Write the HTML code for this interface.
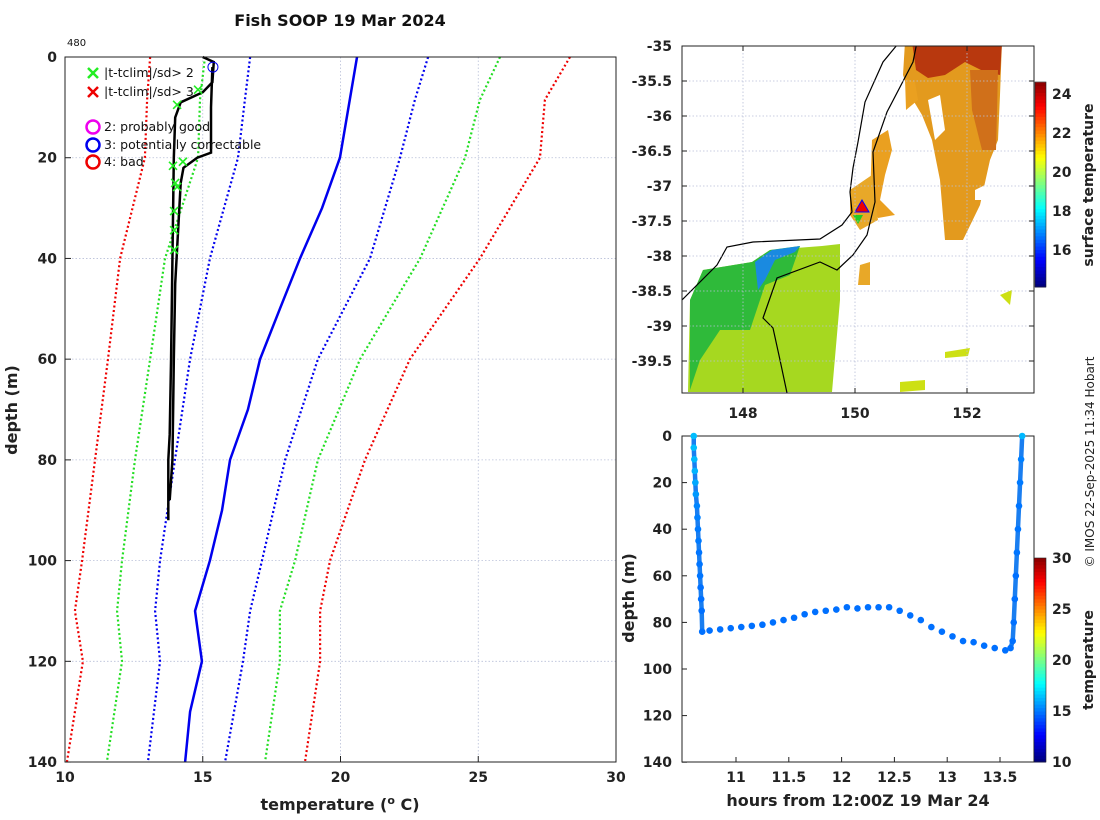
<!DOCTYPE html>
<html><head><meta charset="utf-8"><style>
body{margin:0;background:#fff}
svg{display:block;font-family:"DejaVu Sans","Liberation Sans",sans-serif}
.tk{font-size:14px;font-weight:bold;fill:#222}
.gr{stroke:#b8bfd8;stroke-width:0.8;stroke-dasharray:1.5 2}
</style></head><body>
<svg id="fig" width="1100" height="820" viewBox="0 0 1100 820">
<defs><clipPath id="mapclip"><rect x="682" y="46" width="352" height="347"/></clipPath></defs>
<text x="340" y="26" text-anchor="middle" font-size="16" font-weight="bold" fill="#111">Fish SOOP 19 Mar 2024</text>
<text x="67" y="46" font-size="10" fill="#111">480</text>
<g id="left"></g>
<g id="map" clip-path="url(#mapclip)">
 <rect x="682" y="46" width="352" height="347" fill="#fff"/>
 <path fill="#e39a1e" d="M905 42 L1002 42 L1000 95 L998 140 L990 160 L980 205 L963 240 L945 240 L940 180 L932 140 L922 115 L910 95 L903 75 Z"/>
 <path fill="#b8380e" d="M912 42 L1002 42 L1000 75 L985 72 L965 62 L945 75 L928 78 L916 70 Z"/>
 <path fill="#d0701a" d="M970 70 L998 70 L996 150 L982 150 L972 110 Z"/>
 <path fill="#fff" d="M928 100 L940 95 L945 130 L935 140 Z M975 190 L985 185 L985 200 L975 200 Z"/>
 <path fill="#eaa020" d="M872 140 L888 130 L892 150 L885 175 L880 200 L895 215 L878 218 L870 200 Z M905 78 L915 82 L918 100 L906 110 Z"/>
 <path fill="#e8a828" d="M850 190 L872 175 L878 220 L860 230 L850 215 Z M860 265 L870 262 L870 285 L858 285 Z"/>
 <path fill="#a6d820" d="M690 300 L703 270 L752 262 L770 250 L822 246 L840 244 L840 300 L832 392 L688 392 Z"/>
 <path fill="#2fba3a" d="M690 300 L703 270 L752 262 L770 250 L800 246 L790 275 L765 285 L750 330 L720 330 L700 360 L690 390 Z"/>
 <path fill="#1a8ae0" d="M755 262 L772 250 L800 246 L795 252 L775 260 L765 280 L758 290 Z"/>
 <path fill="#cde014" d="M900 382 L925 380 L925 390 L900 392 Z M945 352 L970 348 L968 356 L945 358 Z M1000 295 L1012 290 L1010 305 Z"/>
 <path fill="none" stroke="#000" stroke-width="1.2" d="M682 300 L717 265 L727 247 L753 242 L820 239 L842 225 L852 212 L850 192 L853 168 L858 142 L865 102 L883 62 L897 45 L905 42"/>
 <path fill="none" stroke="#000" stroke-width="1.2" d="M917 42 L913 62 L887 112 L873 152 L875 202 L867 235 L853 255 L837 270 L820 262 L777 278 L763 318 L773 328 L780 360 L787 393"/>
 <path d="M862 200 L869 212 L855 212 Z" fill="#e00" stroke="#00f" stroke-width="1"/>
 <path d="M853 215 L863 215 L858 224 Z" fill="#2c2"/>
</g>
<g id="mapaxes"></g>
<g id="bottom"></g>
<text transform="translate(1093,185) rotate(-90)" text-anchor="middle" font-size="14" font-weight="bold" fill="#222">surface temperature</text>
<text transform="translate(1094,462) rotate(-90)" text-anchor="middle" font-size="12" fill="#222">© IMOS 22-Sep-2025 11:34 Hobart</text>
<text transform="translate(1093,660) rotate(-90)" text-anchor="middle" font-size="14" font-weight="bold" fill="#222">temperature</text>
</svg>
<script>
// ---- profile data ----
const climDepths=[0,8.5,20,40,60,80,100,110,120,140];
const redLeft=[13.09,12.98,12.90,12.00,11.56,11.09,10.62,10.36,10.65,10.07];
const greenLeft=[15.08,14.90,14.83,13.63,13.09,12.54,12.07,11.89,12.07,11.52];
const blueLeft=[16.72,16.53,16.28,15.26,14.54,13.99,13.45,13.27,13.45,13.01];
const blueRight=[23.18,22.70,22.16,21.07,19.18,17.99,17.15,16.72,16.46,15.81];
const greenRight=[25.79,25.06,24.52,22.89,20.71,19.18,18.35,17.80,17.80,17.26];
const redRight=[28.33,27.42,27.24,25.06,22.52,20.89,19.62,19.26,19.26,18.71];
const meanDepths=[0,20,30,40,50,60,70,80,90,100,110,120,130,140];
const meanTemps=[20.60,19.98,19.33,18.53,17.80,17.08,16.64,15.99,15.70,15.26,14.72,14.97,14.54,14.36];
const profADepth=[0,1,5,7,9,12,20,40,60,75,80,92];
const profATemp=[15.0,15.4,15.35,15.0,14.2,14.0,13.95,13.9,13.85,13.8,13.75,13.75];
const profBDepth=[2,10,19,20,22,25,35,45,60,80,88];
const profBTemp=[15.35,15.3,15.3,14.8,14.3,14.2,14.1,14.0,13.95,13.9,13.8];
const flagDepth=[6.5,9.5,20.8,21.6,25,25.8,30.6,34.4,38.3];
const flagTemp=[14.83,14.07,14.28,13.92,14.0,14.07,13.96,13.96,13.96];
const xTicks=[10,15,20,25,30];
const yTicks=[0,20,40,60,80,100,120,140];
// ---- transect data ----
const tHours=[10.60,10.60,10.605,10.61,10.615,10.62,10.63,10.635,10.64,10.645,10.65,10.655,10.66,10.665,10.67,10.675,10.68,
10.75,10.85,10.95,11.05,11.15,11.25,11.35,11.45,11.55,11.65,11.75,11.85,11.95,12.05,12.15,12.25,12.35,12.45,12.55,12.65,12.75,12.85,12.95,13.05,13.15,13.25,13.35,13.45,13.55,
13.60,13.62,13.63,13.64,13.65,13.66,13.67,13.68,13.69,13.70,13.71];
const tDepth=[0,5,10,15,20,25,30,35,40,45,50,55,60,65,70,75,84,
83.5,83,82.5,82,81.5,81,80,79,78,76.5,75.5,75,74.5,73.5,74,73.5,73.5,73.5,75,77,79,82,84,86,88,88.5,90,91,92,
91,88,80,70,60,50,40,30,20,10,0];
const tTemp=[16.2,16.2,16.1,16.0,15.8,15.5,15.1,15.0,14.9,14.9,14.8,14.8,14.8,14.7,14.7,14.7,14.7,
14.7,14.7,14.7,14.7,14.7,14.7,14.7,14.7,14.7,14.7,14.7,14.7,14.7,14.7,14.7,14.7,14.7,14.7,14.7,14.7,14.7,14.7,14.7,14.7,14.7,14.7,14.7,14.7,14.7,
14.7,14.7,14.7,14.7,14.7,14.8,14.8,14.8,14.9,15.0,16.1];
const hTicks=[11,11.5,12,12.5,13,13.5];
const cbTicksB=[10,15,20,25,30];
const mapLon=[148,150,152];
const mapLat=[-35,-35.5,-36,-36.5,-37,-37.5,-38,-38.5,-39,-39.5];
const cbTicksM=[16,18,20,22,24];

const NS='http://www.w3.org/2000/svg';
function mk(p,t,a){const e=document.createElementNS(NS,t);for(const k in a)e.setAttribute(k,a[k]);p.appendChild(e);return e;}
function jet(v){v=Math.max(0,Math.min(1,v));const c=x=>Math.round(255*Math.max(0,Math.min(1,1.5-Math.abs(x))));
return `rgb(${c(4*v-3)},${c(4*v-2)},${c(4*v-1)})`;}

// ---- left plot ----
const L=document.getElementById('left');
const lx=t=>65+(t-10)*27.55, ly=d=>57+d*5.036;
xTicks.forEach(t=>{const g=mk(L,'line',{x1:lx(t),x2:lx(t),y1:57,y2:762,class:'gr'});});
yTicks.forEach(d=>{const g=mk(L,'line',{x1:65,x2:616,y1:ly(d),y2:ly(d),class:'gr'});});
function line(p,xs,ys,fx,fy,st,name){const pts=xs.map((x,i)=>fx(x)+','+fy(ys[i])).join(' ');const e=mk(p,'polyline',Object.assign({points:pts,fill:'none'},st));return e;}
const dot={'stroke-width':2.2,'stroke-dasharray':'2 2.5'};
line(L,redLeft,climDepths,lx,ly,Object.assign({stroke:'#e00'},dot),'clim-minus-3sd');
line(L,greenLeft,climDepths,lx,ly,Object.assign({stroke:'#2d2'},dot),'clim-minus-2sd');
line(L,blueLeft,climDepths,lx,ly,Object.assign({stroke:'#00e'},dot),'clim-minus-1sd');
line(L,blueRight,climDepths,lx,ly,Object.assign({stroke:'#00e'},dot),'clim-plus-1sd');
line(L,greenRight,climDepths,lx,ly,Object.assign({stroke:'#2d2'},dot),'clim-plus-2sd');
line(L,redRight,climDepths,lx,ly,Object.assign({stroke:'#e00'},dot),'clim-plus-3sd');
line(L,meanTemps,meanDepths,lx,ly,{stroke:'#00e','stroke-width':2.5},'clim-mean');
line(L,profATemp,profADepth,lx,ly,{stroke:'#000','stroke-width':2.5},'profile-down');
line(L,profBTemp,profBDepth,lx,ly,{stroke:'#000','stroke-width':2.5},'profile-up');
flagTemp.forEach((t,i)=>{const x=lx(t),y=ly(flagDepth[i]);const e=mk(L,'path',{d:`M${x-4} ${y-4}L${x+4} ${y+4}M${x-4} ${y+4}L${x+4} ${y-4}`,stroke:'#2e2','stroke-width':1.6});});
{const e=mk(L,'circle',{cx:lx(15.37),cy:ly(2),r:5,fill:'none',stroke:'#00e','stroke-width':1});}
{const e=mk(L,'rect',{x:65,y:57,width:551,height:705,fill:'none',stroke:'#222','stroke-width':1});}
xTicks.forEach(t=>{mk(L,'line',{x1:lx(t),x2:lx(t),y1:762,y2:756,stroke:'#222'});const e=mk(L,'text',{x:lx(t),y:782,class:'tk','text-anchor':'middle'});e.textContent=t;});
yTicks.forEach(d=>{mk(L,'line',{x1:65,x2:71,y1:ly(d),y2:ly(d),stroke:'#222'});const e=mk(L,'text',{x:57,y:ly(d)+5,class:'tk','text-anchor':'end'});e.textContent=d;});
{const e=mk(L,'text',{x:340,y:810,'text-anchor':'middle','font-size':16,'font-weight':'bold',fill:'#222'});e.innerHTML='temperature (<tspan dy="-6" font-size="11">o</tspan><tspan dy="6"> C)</tspan>';}
{const e=mk(L,'text',{transform:'translate(17,410) rotate(-90)','text-anchor':'middle','font-size':16,'font-weight':'bold',fill:'#222'});e.textContent='depth (m)';}
// legend
const legItems=[['x','#2e2','|t-tclim|/sd> 2',73],['x','#e00','|t-tclim|/sd> 3',92],['o','#e0e','2: probably good',127],['o','#00e','3: potentially correctable',145],['o','#e00','4: bad',162]];
legItems.forEach(it=>{const [k,c,txt,y]=it;
 if(k==='x'){const e=mk(L,'path',{d:`M88 ${y-5}L98 ${y+5}M88 ${y+5}L98 ${y-5}`,stroke:c,'stroke-width':2.5});}
 else{const e=mk(L,'circle',{cx:93,cy:y,r:6.5,fill:'none',stroke:c,'stroke-width':2.5});}
 const e=mk(L,'text',{x:104,y:y+4,'font-size':12.5,fill:'#111'});e.textContent=txt;});

// ---- map axes ----
const MA=document.getElementById('mapaxes');
const mx=lo=>743+(lo-148)*56, my=la=>46+(-35-la)*70;
mapLon.forEach(lo=>{const g=mk(MA,'line',{x1:mx(lo),x2:mx(lo),y1:46,y2:393,class:'gr'});
 mk(MA,'line',{x1:mx(lo),x2:mx(lo),y1:393,y2:388,stroke:'#222'});mk(MA,'line',{x1:mx(lo),x2:mx(lo),y1:46,y2:51,stroke:'#222'});
 const e=mk(MA,'text',{x:mx(lo),y:418,class:'tk','text-anchor':'middle'});e.textContent=lo;});
mapLat.forEach(la=>{const g=mk(MA,'line',{x1:682,x2:1034,y1:my(la),y2:my(la),class:'gr'});
 mk(MA,'line',{x1:682,x2:687,y1:my(la),y2:my(la),stroke:'#222'});mk(MA,'line',{x1:1034,x2:1029,y1:my(la),y2:my(la),stroke:'#222'});
 const e=mk(MA,'text',{x:672,y:my(la)+5,class:'tk','text-anchor':'end'});e.textContent=la;});
{const e=mk(MA,'rect',{x:682,y:46,width:352,height:347,fill:'none',stroke:'#222'});}
// map colorbar
const mcy=v=>287-(v-14.1)*19.5;
for(let i=0;i<60;i++){const v0=14.1+i*10.5/60;mk(MA,'rect',{x:1035,y:mcy(v0+10.5/60),width:11,height:10.5/60*19.5+0.5,fill:jet((v0-14.1)/10.5)});}
{const e=mk(MA,'rect',{x:1035,y:82,width:11,height:205,fill:'none',stroke:'#222','stroke-width':0.6});}
cbTicksM.forEach(v=>{const e=mk(MA,'text',{x:1052,y:mcy(v)+5,class:'tk'});e.textContent=v;});

// ---- transect ----
const B=document.getElementById('bottom');
const bx=h=>736+(h-11)*105.6, by=d=>436+d*2.33;
{const e=mk(B,'rect',{x:682,y:436,width:352,height:326,fill:'none',stroke:'#222'});}
line(B,tHours.slice(0,17),tDepth.slice(0,17),bx,by,{stroke:'#1a7ef0','stroke-width':4.5},'descent-trace');
line(B,tHours.slice(46),tDepth.slice(46),bx,by,{stroke:'#1a7ef0','stroke-width':4.5},'ascent-trace');
tHours.forEach((h,i)=>{const e=mk(B,'circle',{cx:bx(h),cy:by(tDepth[i]),r:3.3,fill:jet((tTemp[i]-10)/20)});});
hTicks.forEach(h=>{mk(B,'line',{x1:bx(h),x2:bx(h),y1:762,y2:757,stroke:'#222'});const e=mk(B,'text',{x:bx(h),y:782,class:'tk','text-anchor':'middle'});e.textContent=h;});
yTicks.forEach(d=>{mk(B,'line',{x1:682,x2:687,y1:by(d),y2:by(d),stroke:'#222'});const e=mk(B,'text',{x:672,y:by(d)+5,class:'tk','text-anchor':'end'});e.textContent=d;});
{const e=mk(B,'text',{x:858,y:806,'text-anchor':'middle','font-size':16,'font-weight':'bold',fill:'#222'});e.textContent='hours from 12:00Z 19 Mar 24';}
{const e=mk(B,'text',{transform:'translate(634,598) rotate(-90)','text-anchor':'middle','font-size':16,'font-weight':'bold',fill:'#222'});e.textContent='depth (m)';}
const bcy=v=>762-(v-10)*10.2;
for(let i=0;i<60;i++){const v0=10+i*20/60;mk(B,'rect',{x:1034,y:bcy(v0+20/60),width:12,height:20/60*10.2+0.5,fill:jet((v0-10)/20)});}
{const e=mk(B,'rect',{x:1034,y:558,width:12,height:204,fill:'none',stroke:'#222','stroke-width':0.6});}
cbTicksB.forEach(v=>{const e=mk(B,'text',{x:1052,y:bcy(v)+5,class:'tk'});e.textContent=v;});
</script>
</body></html>
